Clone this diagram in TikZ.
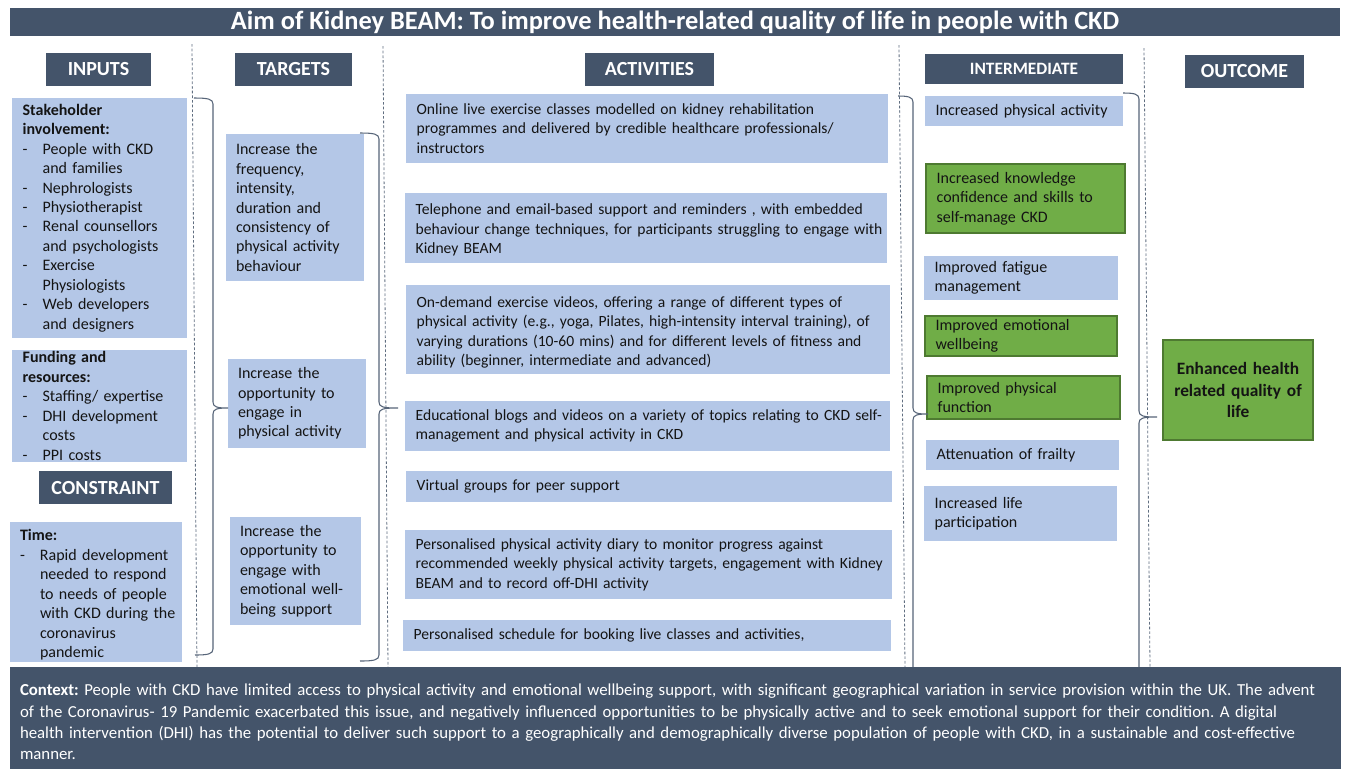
\documentclass[tikz,border=0pt]{standalone}
\usepackage{fontspec}
\setmainfont{Carlito}
\frenchspacing
\definecolor{navy}{HTML}{44546A}
\definecolor{paleblue}{HTML}{B4C7E7}
\definecolor{leaf}{HTML}{70AD47}
\definecolor{leafedge}{HTML}{4E7A31}
\definecolor{ink}{HTML}{141414}
% list helpers: dash bullet and continuation indent
\newcommand\dashitem{\makebox[15pt][l]{-}}
\newcommand\dashcont{\hspace*{15pt}}
% bracket: top-left x, top y, spine x, tip x, tip y, bottom y, bottom-left x
\newcommand\kbrace[7]{%
  \draw[bracket] (#1,#2) .. controls (#3-5,#2) and (#3,#2+1) .. (#3,#2+6)
    -- (#3,#5-6) .. controls (#3,#5-1) and (#3+4,#5) .. (#4,#5)
    .. controls (#3+4,#5) and (#3,#5+1) .. (#3,#5+6)
    -- (#3,#6-6) .. controls (#3,#6-1) and (#3-5,#6) .. (#7,#6);}
\begin{document}
\begin{tikzpicture}[x=0.75pt,y=-0.75pt]
\tikzset{
  body/.style={font=\fontsize{12}{14.6}\selectfont, text=ink, align=left, inner xsep=8pt, inner ysep=0pt,
               execute at begin node={\rightskip=-20pt plus 1fil\relax}},
  act/.style={font=\fontsize{11.7}{14.6}\selectfont},
  pale/.style={body, fill=paleblue},
  leafbox/.style={body, fill=leaf, draw=leafedge, line width=1pt},
  hdr/.style={fill=navy, text=white, font=\fontsize{15}{18}\selectfont\bfseries, inner sep=0pt},
  divider/.style={draw=navy!85, dash pattern=on 2pt off 1.5pt, line width=0.6pt},
  bracket/.style={draw=navy!90, line width=0.8pt},
}
\useasboundingbox (0,0) rectangle (1350,769);
\fill[white] (0,0) rectangle (1350,769);

% title bar
\node[fill=navy, text=white, font=\fontsize{19.8}{23}\selectfont\bfseries, inner sep=0pt,
      minimum width=997.5pt, minimum height=21pt] (title) at (675,22)
  {Aim of Kidney BEAM: To improve health-related quality of life in people with CKD};

% column dividers
\draw[divider] (192,44) -- (197,667);
\draw[divider] (383,46) -- (388,667);
\draw[divider] (899,45) -- (905,667);
\draw[divider] (1144,48) -- (1150,667);

% column headers
\node[hdr, minimum width=78.75pt, minimum height=24.75pt] (hIn) at (98.5,69.5) {INPUTS};
\node[hdr, minimum width=87.75pt, minimum height=24.75pt] (hTg) at (293.5,69.5) {TARGETS};
\node[hdr, minimum width=96.75pt, minimum height=24.75pt] (hAc) at (649.5,69.5) {ACTIVITIES};
\node[hdr, font=\fontsize{13}{16}\selectfont\bfseries, minimum width=148.5pt, minimum height=22.5pt] (hIm) at (1024,69) {INTERMEDIATE};
\node[hdr, minimum width=89.25pt, minimum height=24.75pt] (hOut) at (1244.5,71.5) {OUTCOME};
\node[hdr, minimum width=99.75pt, minimum height=24.75pt] (hCon) at (105.5,487.5) {CONSTRAINT};

% inputs
\node[pale, minimum width=131.25pt, minimum height=180pt, text width=115.25pt] (in1) at (99.5,218)
  {\textbf{Stakeholder}\\ \textbf{involvement:}\\
   \dashitem People with CKD\\ \dashcont and families\\
   \dashitem Nephrologists\\ \dashitem Physiotherapist\\
   \dashitem Renal counsellors\\ \dashcont and psychologists\\
   \dashitem Exercise\\ \dashcont Physiologists\\
   \dashitem Web developers\\ \dashcont and designers};
\node[pale, minimum width=131.25pt, minimum height=84pt, text width=115.25pt] (in2) at (99.5,406)
  {\textbf{Funding and}\\ \textbf{resources:}\\
   \dashitem Staffing/ expertise\\ \dashitem DHI development\\ \dashcont costs\\
   \dashitem PPI costs};
\fill[paleblue] (10,522) rectangle (182,662);
\node[body, minimum width=129pt, minimum height=105pt, text width=114pt, inner xsep=7.5pt] (con) at (96,595)
  {\textbf{Time:}\\ \dashitem Rapid development\\ \dashcont needed to respond\\
   \dashcont to needs of people\\ \dashcont with CKD during the\\
   \dashcont coronavirus\\ \dashcont pandemic};

% targets
\node[pale, minimum width=103.5pt, minimum height=110.25pt, text width=88.5pt, inner xsep=7.5pt] (t1) at (295,207.5)
  {Increase the\\ frequency,\\ intensity,\\ duration and\\ consistency of\\ physical activity\\ behaviour};
\node[pale, minimum width=103.5pt, minimum height=66.75pt, text width=88.5pt, inner xsep=7.5pt] (t2) at (297,403.5)
  {Increase the\\ opportunity to\\ engage in\\ physical activity};
\node[pale, minimum width=98.25pt, minimum height=81pt, text width=83.25pt, inner xsep=7.5pt] (t3) at (295.5,571)
  {Increase the\\ opportunity to\\ engage with\\ emotional well-\\ being support};

% activities
\node[pale, act, minimum width=361.5pt, minimum height=51.75pt, text width=345.5pt] (a1) at (647,128.5)
  {Online live exercise classes modelled on kidney rehabilitation\\
   programmes and delivered by credible healthcare professionals/\\ instructors};
\fill[paleblue] (405,193) rectangle (887,263);
\node[body, act, minimum width=361.5pt, minimum height=52.5pt, text width=345.5pt] (a2) at (646,230)
  {Telephone and email-based support and reminders , with embedded\\
   behaviour change techniques, for participants struggling to engage with\\ Kidney BEAM};
\fill[paleblue] (406,285) rectangle (890,374);
\node[body, act, minimum width=363pt, minimum height=66.75pt, text width=347pt] (a3) at (648,332.5)
  {On-demand exercise videos, offering a range of different types of\\
   physical activity (e.g., yoga, Pilates, high-intensity interval training), of\\
   varying durations (10-60 mins) and for different levels of fitness and\\
   ability (beginner, intermediate and advanced)};
\node[pale, act, minimum width=363.75pt, minimum height=37.5pt, text width=347.75pt] (a4) at (647.5,426)
  {Educational blogs and videos on a variety of topics relating to CKD self-\\
   management and physical activity in CKD};
\node[pale, act, minimum width=364.5pt, minimum height=23.25pt, text width=348.5pt] (a5) at (649,486.5)
  {Virtual groups for peer support};
\node[pale, act, minimum width=365.25pt, minimum height=51.75pt, text width=349.25pt] (a6) at (648.5,564.5)
  {Personalised physical activity diary to monitor progress against\\
   recommended weekly physical activity targets, engagement with Kidney\\
   BEAM and to record off-DHI activity};
\node[pale, act, minimum width=366pt, minimum height=23.25pt, text width=350pt] (a7) at (647,635.5)
  {Personalised schedule for booking live classes and activities,};

% intermediate outcomes
\node[pale, minimum width=148.5pt, minimum height=22.5pt, text width=132.5pt] (i1) at (1024,111)
  {Increased physical activity};
\node[leafbox, minimum width=149.25pt, minimum height=51.75pt, text width=133.25pt] (i2) at (1025.5,198.5)
  {Increased knowledge\\ confidence and skills to\\ self-manage CKD};
\node[pale, minimum width=145.5pt, minimum height=33pt, text width=129.5pt] (i3) at (1021,278)
  {Improved fatigue\\ management};
\node[leafbox, minimum width=144pt, minimum height=30pt, text width=128pt] (i4) at (1021,336)
  {Improved emotional\\ wellbeing};
\node[leafbox, minimum width=144.75pt, minimum height=32.25pt, text width=128.75pt] (i5) at (1023.5,397.5)
  {Improved physical\\ function};
\node[pale, minimum width=144.75pt, minimum height=22.5pt, text width=128.75pt] (i6) at (1022.5,455)
  {Attenuation of frailty};
\node[pale, minimum width=144.75pt, minimum height=41.25pt, text width=128.75pt] (i7) at (1020.5,513.5)
  {Increased life\\ participation};

% final outcome
\node[fill=leaf, draw=leafedge, line width=1pt, text=ink, font=\fontsize{13}{15.8}\selectfont\bfseries, align=center,
      inner xsep=6pt, inner ysep=0pt, minimum width=112.5pt, minimum height=75pt, text width=100pt] (outc) at (1238,390)
  {Enhanced health\\ related quality of\\ life};

% grouping brackets
\kbrace{194}{98}{213}{228}{408}{655}{195}
\kbrace{360}{133}{379}{398}{408}{661}{360}
\kbrace{898}{96}{913}{928}{414}{673}{913}
\kbrace{1123}{93}{1139}{1157}{417}{673}{1139}

% context banner
\fill[navy] (10,667) rectangle (1341,769);
\node[text=white, font=\fontsize{12.6}{16}\selectfont, align=left, inner xsep=7.5pt, inner ysep=0pt,
      execute at begin node={\rightskip=-20pt plus 1fil\relax},
      minimum width=998.25pt, minimum height=76.5pt, text width=983.25pt] (ctx) at (675.5,722)
  {\textbf{Context:} People with CKD have limited access to physical activity and emotional wellbeing support, with significant geographical variation in service provision within the UK. The advent\\
   of the Coronavirus- 19 Pandemic exacerbated this issue, and negatively influenced opportunities to be physically active and to seek emotional support for their condition. A digital\\
   health intervention (DHI) has the potential to deliver such support to a geographically and demographically diverse population of people with CKD, in a sustainable and cost-effective\\
   manner.};
\end{tikzpicture}
\end{document}
